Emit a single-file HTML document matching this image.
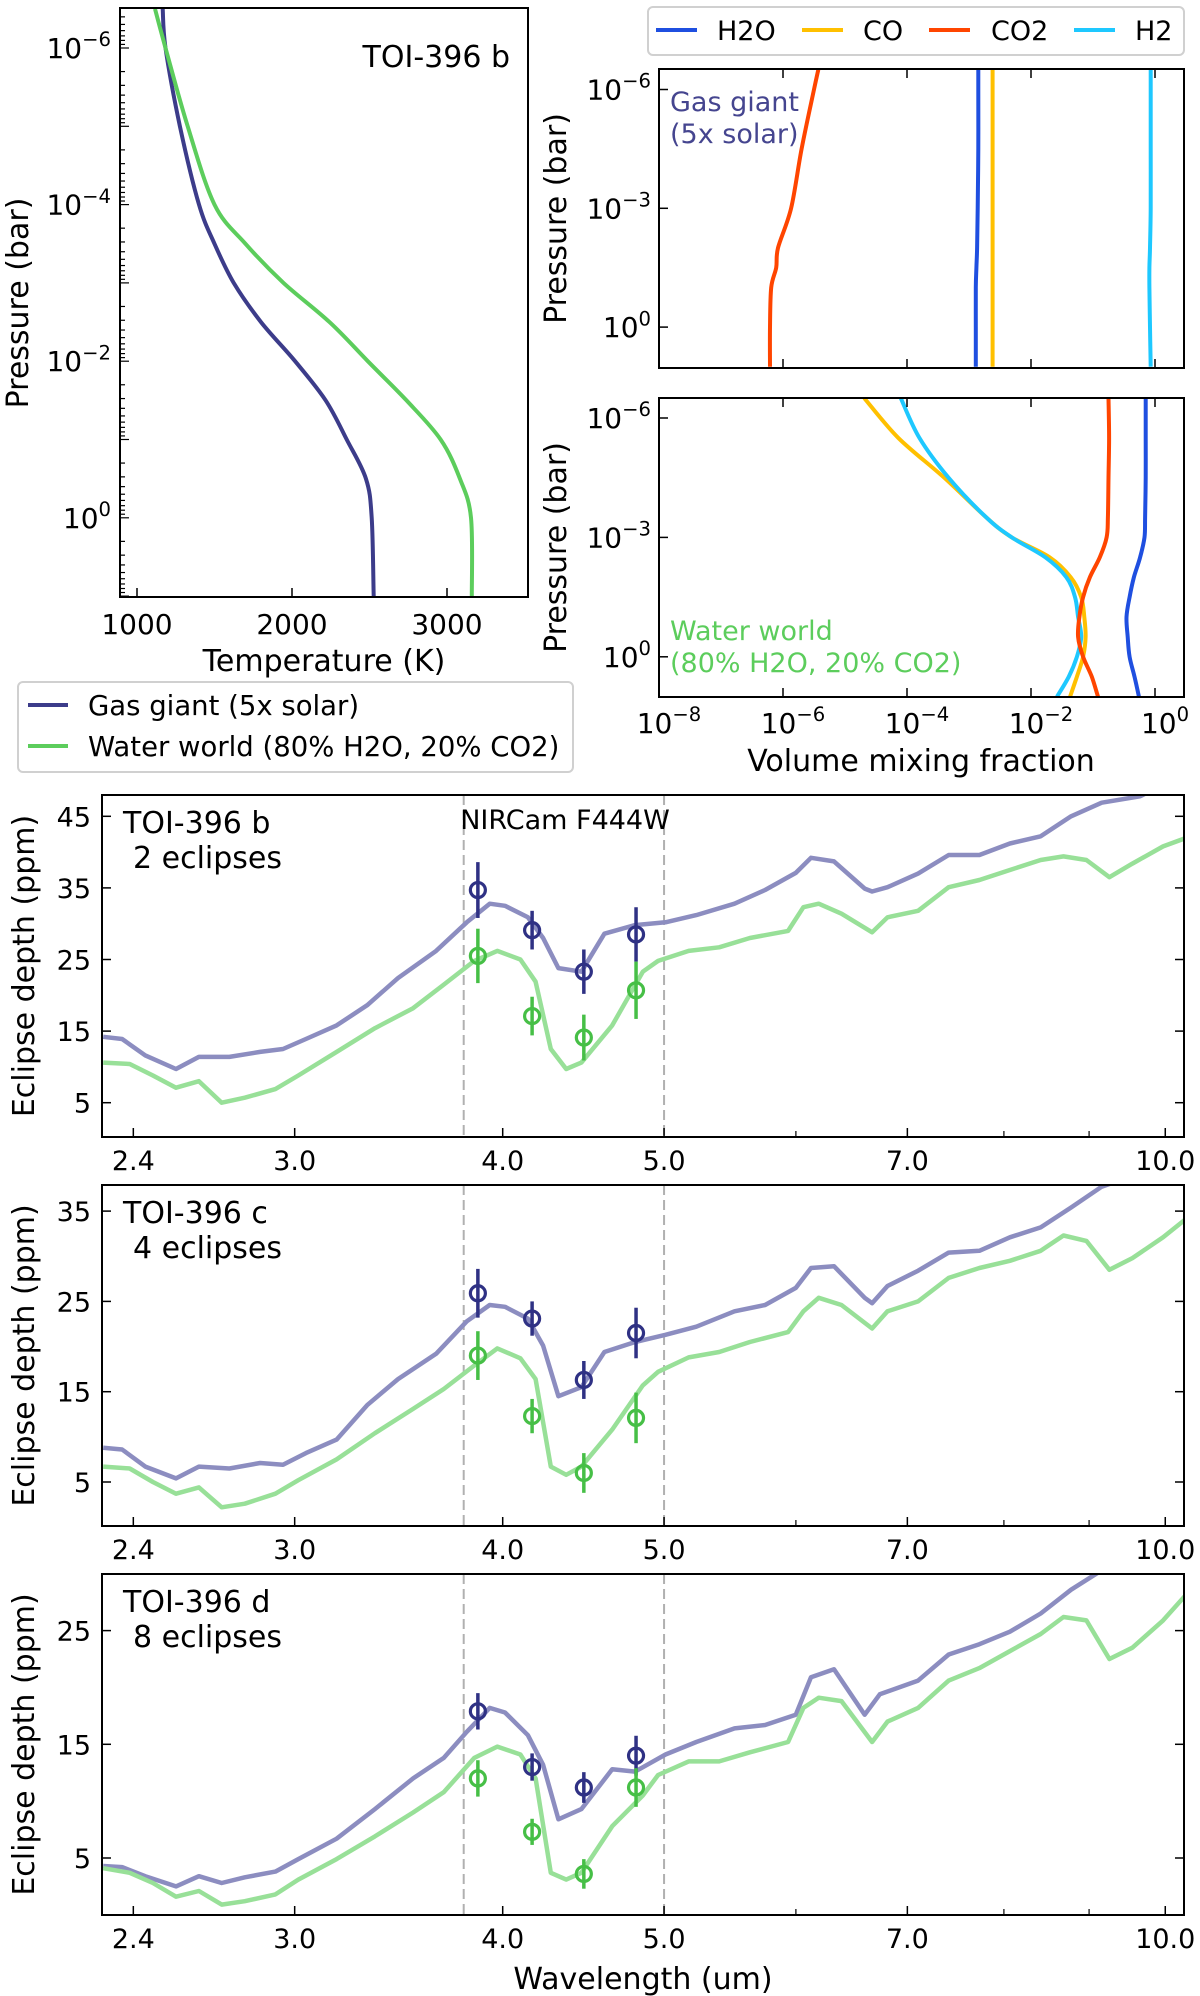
<!DOCTYPE html>
<html><head><meta charset="utf-8">
<style>
html,body{margin:0;padding:0;background:#fff;}
svg{display:block;font-family:"DejaVu Sans","Liberation Sans",sans-serif;}
</style></head>
<body>
<svg id="fig" width="1200" height="1996" viewBox="0 0 1200 1996" xmlns="http://www.w3.org/2000/svg"></svg>
<script>
// ---------- Panel 1: T-P profiles (log10 pressure vs temperature) ----------
const tpLogP = [-6.5, -6, -5, -4, -3.5, -3, -2.5, -2, -1.5, -1, -0.5, 0, 1];
const tpGasT = [1166, 1184, 1277, 1400, 1500, 1624, 1800, 2020, 2217, 2353, 2477, 2514, 2527];
const tpWaterT = [1116, 1184, 1327, 1500, 1700, 1945, 2242, 2489, 2738, 2959, 3083, 3155, 3160];
const tpXTicks = [1000, 2000, 3000];
const tpYTicks = [-6, -4, -2, 0];

// ---------- Panel 2: gas giant mixing (log10 VMR) ----------
const mixLogP = [-6.5, -6, -4.5, -3, -2, -1.5, -1, 0, 1];
const ggH2O = [-2.85, -2.85, -2.85, -2.86, -2.87, -2.88, -2.89, -2.89, -2.89];
const ggCO = [-2.62, -2.62, -2.62, -2.62, -2.62, -2.62, -2.62, -2.62, -2.62];
const ggCO2 = [-5.43, -5.5, -5.7, -5.87, -6.08, -6.11, -6.19, -6.21, -6.21];
const ggH2 = [-0.07, -0.07, -0.07, -0.07, -0.08, -0.09, -0.09, -0.08, -0.07];

// ---------- Panel 3: water world mixing ----------
const wwLogP = [-6.5, -5.5, -4.5, -3.5, -3, -2.5, -2, -1.5, -1, -0.5, 0, 0.5, 1];
const wwCO = [-4.69, -4.14, -3.4, -2.72, -2.31, -1.7, -1.36, -1.19, -1.14, -1.12, -1.16, -1.26, -1.37];
const wwH2 = [-4.1, -3.8, -3.33, -2.72, -2.31, -1.77, -1.43, -1.29, -1.24, -1.19, -1.26, -1.39, -1.58];
const wwCO2 = [-0.75, -0.74, -0.75, -0.76, -0.78, -0.89, -1.05, -1.16, -1.22, -1.24, -1.16, -1.02, -0.92];
const wwH2O = [-0.15, -0.15, -0.15, -0.16, -0.17, -0.24, -0.34, -0.41, -0.46, -0.44, -0.41, -0.33, -0.26];
const mixXTicks = [-8, -6, -4, -2, 0];
const mixYTicks = [-6, -3, 0];

// ---------- Spectra ----------
const wlGasBC = [2.302,2.363,2.440,2.546,2.628,2.741,2.860,2.952,3.047,3.179,3.316,3.461,3.648,3.806,3.929,4.013,4.142,4.230,4.320,4.460,4.604,4.804,5.010,5.228,5.512,5.750,5.999,6.127,6.325,6.599,6.667,6.810,7.105,7.412,7.733,8.067,8.417,8.779,9.159,9.658,10.27];
const gasB = [14.2,13.9,11.6,9.7,11.4,11.4,12.1,12.5,13.9,15.8,18.6,22.4,26.2,30.2,32.8,32.5,30.9,28,23.8,23.3,28.6,29.8,30.2,31.2,32.8,34.7,37.1,39.2,38.7,34.9,34.5,35.1,37,39.6,39.6,41.2,42.2,45,46.9,47.8,51];
const gasC = [8.8,8.6,6.7,5.4,6.7,6.5,7.1,6.9,8.2,9.7,13.5,16.4,19.2,22.8,24.6,24.4,23.1,20.1,14.5,15.5,19.4,20.5,21.3,22.2,23.9,24.6,26.5,28.7,28.9,25.4,24.8,26.7,28.4,30.4,30.6,32.1,33.2,35.4,37.7,39.2,40.7];
const wlGasD = [2.302,2.363,2.440,2.546,2.628,2.712,2.800,2.921,3.015,3.179,3.352,3.534,3.687,3.806,3.929,4.013,4.142,4.230,4.320,4.460,4.654,4.804,5.010,5.228,5.512,5.750,5.999,6.127,6.325,6.599,6.738,7.105,7.412,7.733,8.067,8.417,8.779,9.159,10.27];
const gasD = [4.3,4.2,3.4,2.5,3.4,2.8,3.3,3.8,4.9,6.7,9.3,12,13.8,16.1,18.2,17.8,15.8,13.2,8.4,9.3,12.8,12.6,14.1,15.2,16.4,16.7,17.6,20.9,21.6,17.6,19.4,20.6,22.9,23.8,24.9,26.5,28.6,30.3,32.7];
const wlWater = [2.302,2.388,2.466,2.546,2.628,2.712,2.800,2.921,3.015,3.179,3.352,3.534,3.687,3.846,3.970,4.099,4.186,4.275,4.367,4.460,4.654,4.855,4.959,5.173,5.396,5.630,5.936,6.063,6.192,6.391,6.667,6.810,7.105,7.412,7.733,8.067,8.417,8.687,8.967,9.257,9.556,9.970,10.27];
const waterB = [10.6,10.4,8.8,7.1,8,5,5.7,6.9,8.8,12.1,15.4,18.2,21.5,24.8,26.2,25,21.9,12.5,9.7,10.6,15.8,23.3,24.8,26.2,26.7,28,29,32.3,32.8,31.4,28.8,30.9,31.8,35.1,36.1,37.5,38.9,39.4,38.9,36.5,38.4,40.8,41.9];
const waterC = [6.7,6.5,5,3.7,4.4,2.2,2.6,3.7,5.2,7.5,10.4,13.1,15.3,17.9,19.8,18.7,16.4,6.7,5.8,6.7,10.8,15.7,17.2,18.8,19.4,20.5,21.6,23.9,25.4,24.6,22,23.9,25,27.6,28.7,29.5,30.6,32.3,31.7,28.5,29.8,32.1,34];
const waterD = [4.1,3.7,2.8,1.6,2.1,0.9,1.2,1.8,3.1,4.9,6.9,9,10.8,13.8,14.8,14.1,12,3.7,3.1,3.7,7.8,10.5,12.3,13.5,13.5,14.3,15.2,18.2,19.1,18.8,15.2,17,18.2,20.6,21.7,23.2,24.7,26.2,25.9,22.5,23.5,25.9,28];
const obsWl = [3.865, 4.166, 4.475, 4.81];
const obsGasB = [34.7, 29.1, 23.3, 28.5];
const obsGasBErr = [3.9, 2.7, 3.1, 3.8];
const obsWaterB = [25.5, 17.1, 14.1, 20.7];
const obsWaterBErr = [3.8, 2.7, 3.2, 4.0];
const obsGasC = [25.9, 23.1, 16.3, 21.5];
const obsGasCErr = [2.7, 1.9, 2.1, 2.8];
const obsWaterC = [19, 12.3, 6, 12.1];
const obsWaterCErr = [2.7, 1.9, 2.2, 2.8];
const obsGasD = [17.9, 13, 11.2, 14];
const obsGasDErr = [1.6, 1.2, 1.35, 1.75];
const obsWaterD = [12, 7.3, 3.6, 11.2];
const obsWaterDErr = [1.6, 1.15, 1.3, 1.7];
const wlTicks = [2.4, 3.0, 4.0, 5.0, 7.0, 10.0];
const wlMinorTicks = [6, 8, 9];
const filterEdges = [3.79, 5.0];

const NS = 'http://www.w3.org/2000/svg';
const svg = document.getElementById('fig');
const TICK = 28, TITLE = 30;
function mk(tag, attrs, parent) {
  const e = document.createElementNS(NS, tag);
  for (const k in attrs) e.setAttribute(k, attrs[k]);
  (parent || svg).appendChild(e);
  return e;
}
function txt(s, x, y, size, anchor, parent, color) {
  const t = mk('text', {x: x, y: y, 'font-size': size, 'text-anchor': anchor || 'start', fill: color || '#000'}, parent);
  t.textContent = s;
  return t;
}
function pow10(exp, x, y, size, anchor, parent) {
  const t = mk('text', {x: x, y: y, 'font-size': size, 'text-anchor': anchor || 'end'}, parent);
  const a = mk('tspan', {}, t); a.textContent = '10';
  const b = mk('tspan', {dy: -size * 0.42, 'font-size': size * 0.7}, t);
  b.textContent = exp < 0 ? '\u2212' + Math.abs(exp) : String(exp);
  return t;
}
function pathD(xs, ys) { return xs.map((v, i) => (i ? 'L' : 'M') + v.toFixed(1) + ',' + ys[i].toFixed(1)).join(''); }
function smoothD(xs, ys) {
  let d = 'M' + xs[0].toFixed(1) + ',' + ys[0].toFixed(1);
  for (let i = 0; i < xs.length - 1; i++) {
    const i0 = Math.max(0, i - 1), i3 = Math.min(xs.length - 1, i + 2);
    const c1x = xs[i] + (xs[i + 1] - xs[i0]) / 6, c1y = ys[i] + (ys[i + 1] - ys[i0]) / 6;
    const c2x = xs[i + 1] - (xs[i3] - xs[i]) / 6, c2y = ys[i + 1] - (ys[i3] - ys[i]) / 6;
    d += 'C' + c1x.toFixed(1) + ',' + c1y.toFixed(1) + ' ' + c2x.toFixed(1) + ',' + c2y.toFixed(1) + ' ' + xs[i + 1].toFixed(1) + ',' + ys[i + 1].toFixed(1);
  }
  return d;
}
function clip(id, x0, y0, x1, y1) {
  const cp = mk('clipPath', {id: id});
  mk('rect', {x: x0, y: y0, width: x1 - x0, height: y1 - y0}, cp);
}

// ================= Panel 1 =================
const p1 = {x0: 120, x1: 528, y0: 8, y1: 597};
const xT = T => 137 + (T - 1000) * 0.155;
const yP1 = l => 48 + (l + 6) * 78.3;
const g1 = mk('g', {});


clip('c1', p1.x0, p1.y0, p1.x1, p1.y1);
const gasTP = mk('path', {d: smoothD(tpGasT.map(xT), tpLogP.map(yP1)), fill: 'none', stroke: '#3c3c8a', 'stroke-width': 4, 'clip-path': 'url(#c1)', 'stroke-linejoin': 'round'}, g1);


const waterTP = mk('path', {d: smoothD(tpWaterT.map(xT), tpLogP.map(yP1)), fill: 'none', stroke: '#5ccd5c', 'stroke-width': 4, 'clip-path': 'url(#c1)', 'stroke-linejoin': 'round'}, g1);


const box1 = mk('rect', {x: p1.x0, y: p1.y0, width: p1.x1 - p1.x0, height: p1.y1 - p1.y0, fill: 'none', stroke: '#000', 'stroke-width': 2}, g1);


tpXTicks.forEach(T => {
  mk('line', {x1: xT(T), x2: xT(T), y1: p1.y1, y2: p1.y1 - 9, stroke: '#000', 'stroke-width': 1.5}, g1);
  const t = txt(String(T), xT(T), 634, TICK, 'middle', g1);
  
  
});
for (let d = -7; d <= 1; d++) {
  for (let m = 1; m <= 9; m++) {
    const l = d + Math.log10(m);
    const y = yP1(l);
    if (y < p1.y0 || y > p1.y1) continue;
    mk('line', {x1: p1.x0, x2: p1.x0 + (m === 1 ? 9 : 5), y1: y, y2: y, stroke: '#000', 'stroke-width': 1.2}, g1);
  }
}
tpYTicks.forEach(l => {
  const t = pow10(l, 111, yP1(l) + 10, TICK, 'end', g1);
  
  
});
let t1 = txt('Temperature (K)', 324, 671, TITLE, 'middle', g1);


t1 = txt('Pressure (bar)', 0, 0, TITLE, 'middle', g1);
t1.setAttribute('transform', 'translate(28,303) rotate(-90)');


t1 = txt('TOI-396 b', 510, 67, 30, 'end', g1);



// legend 1
const lg1 = mk('g', {});


mk('rect', {x: 18, y: 682, width: 555, height: 90, rx: 5, fill: '#fff', stroke: '#d0d0d0', 'stroke-width': 2}, lg1);
let le = mk('line', {x1: 28, x2: 68, y1: 705, y2: 705, stroke: '#3c3c8a', 'stroke-width': 4}, lg1);


le = txt('Gas giant (5x solar)', 88, 715, 27.5, 'start', lg1);


le = mk('line', {x1: 28, x2: 68, y1: 746, y2: 746, stroke: '#5ccd5c', 'stroke-width': 4}, lg1);


le = txt('Water world (80% H2O, 20% CO2)', 88, 756, 27.5, 'start', lg1);



// ================= Panels 2/3 =================
const xV = l => 659 + (l + 8) * 62;
const colH2O = '#1f4fe0', colCO = '#ffc000', colCO2 = '#ff4500', colH2 = '#1ec8ff';
function mixPanel(name, y0, y1, yf, logP, series, cid) {
  const g = mk('g', {});
  
  
  clip(cid, 659, y0, 1184, y1);
  series.forEach(s => {
    const p = mk('path', {d: smoothD(s.v.map(xV), logP.map(yf)), fill: 'none', stroke: s.c, 'stroke-width': 4, 'clip-path': 'url(#' + cid + ')', 'stroke-linejoin': 'round'}, g);
    
    
  });
  const fr = mk('rect', {x: 659, y: y0, width: 525, height: y1 - y0, fill: 'none', stroke: '#000', 'stroke-width': 2}, g);
  
  
  mixXTicks.forEach(l => {
    mk('line', {x1: xV(l), x2: xV(l), y1: y1, y2: y1 - 9, stroke: '#000', 'stroke-width': 1.5}, g);
    mk('line', {x1: xV(l), x2: xV(l), y1: y0, y2: y0 + 9, stroke: '#000', 'stroke-width': 1.5}, g);
  });
  mixYTicks.forEach(l => {
    mk('line', {x1: 659, x2: 668, y1: yf(l), y2: yf(l), stroke: '#000', 'stroke-width': 1.5}, g);
    const t = pow10(l, 651, yf(l) + 10, TICK, 'end', g);
    
    
  });
  const t = txt('Pressure (bar)', 0, 0, TITLE, 'middle', g);
  t.setAttribute('transform', 'translate(566,' + ((y0 + y1) / 2) + ') rotate(-90)');
  
  
  return g;
}
const yP2 = l => 89.5 + (l + 6) * 39.6;
const yP3 = l => 418 + (l + 6) * 39.8;
const g2 = mixPanel('gas-giant-mixing-panel', 69, 368, yP2, mixLogP, [
  {v: ggCO2, c: colCO2, n: 'co2-line-gas-giant'}, {v: ggH2O, c: colH2O, n: 'h2o-line-gas-giant'},
  {v: ggCO, c: colCO, n: 'co-line-gas-giant'}, {v: ggH2, c: colH2, n: 'h2-line-gas-giant'}], 'c2');
let a2 = txt('Gas giant', 670, 111, 27, 'start', g2, '#45458f');


a2 = txt('(5x solar)', 670, 143, 27, 'start', g2, '#45458f');


const g3 = mixPanel('water-world-mixing-panel', 398, 697, yP3, wwLogP, [
  {v: wwCO, c: colCO, n: 'co-line-water-world'}, {v: wwH2, c: colH2, n: 'h2-line-water-world'},
  {v: wwCO2, c: colCO2, n: 'co2-line-water-world'}, {v: wwH2O, c: colH2O, n: 'h2o-line-water-world'}], 'c3');
a2 = txt('Water world', 670, 640, 27, 'start', g3, '#5ccd5c');


a2 = txt('(80% H2O, 20% CO2)', 670, 672, 27, 'start', g3, '#5ccd5c');


mixXTicks.forEach(l => {
  const t = pow10(l, xV(l) + 10, 733, TICK, 'middle', g3);
  
  
});
a2 = txt('Volume mixing fraction', 921, 771, TITLE, 'middle', g3);



// legend 2
const lg2 = mk('g', {});


mk('rect', {x: 648, y: 7, width: 536, height: 48, rx: 5, fill: '#fff', stroke: '#d0d0d0', 'stroke-width': 2}, lg2);
[['H2O', colH2O, 656, 717], ['CO', colCO, 802, 863], ['CO2', colCO2, 929, 991], ['H2', colH2, 1074, 1135]].forEach(e => {
  const l = mk('line', {x1: e[2], x2: e[2] + 41, y1: 30, y2: 30, stroke: e[1], 'stroke-width': 4}, lg2);
  
  
  const t = txt(e[0], e[3], 40, 27, 'start', lg2);
  
  
});

// ================= Spectral panels =================
const xW = w => 502.7 + 1665 * Math.log10(w / 4);
function specPanel(cfg) {
  const g = mk('g', {});
  
  
  const yf = v => cfg.y5 - (v - 5) * cfg.pp;
  clip(cfg.cid, 102, cfg.y0, 1184, cfg.y1);
  filterEdges.forEach(w => {
    const l = mk('line', {x1: xW(w), x2: xW(w), y1: cfg.y0, y2: cfg.y1, stroke: '#b0b0b0', 'stroke-width': 2, 'stroke-dasharray': '10,5'}, g);
    
    
  });
  const pg = mk('path', {d: pathD(cfg.wlg.map(xW), cfg.gas.map(yf)), fill: 'none', stroke: '#8c8dc0', 'stroke-width': 4.5, 'clip-path': 'url(#' + cfg.cid + ')', 'stroke-linejoin': 'round'}, g);
  
  
  const pw = mk('path', {d: pathD(wlWater.map(xW), cfg.water.map(yf)), fill: 'none', stroke: '#98e098', 'stroke-width': 4.5, 'clip-path': 'url(#' + cfg.cid + ')', 'stroke-linejoin': 'round'}, g);
  
  
  [[cfg.og, cfg.oge, '#2f3184', 'gas-giant-observation'], [cfg.ow, cfg.owe, '#46bf46', 'water-world-observation']].forEach(s => {
    obsWl.forEach((w, i) => {
      const x = xW(w);
      const eb = mk('line', {x1: x, x2: x, y1: yf(s[0][i] - s[1][i]), y2: yf(s[0][i] + s[1][i]), stroke: s[2], 'stroke-width': 3.5}, g);
      
      
      const c = mk('circle', {cx: x, cy: yf(s[0][i]), r: 7.5, fill: 'none', stroke: s[2], 'stroke-width': 3.2}, g);
      
      
    });
  });
  const fr = mk('rect', {x: 102, y: cfg.y0, width: 1082, height: cfg.y1 - cfg.y0, fill: 'none', stroke: '#000', 'stroke-width': 2}, g);
  
  
  cfg.yt.forEach(v => {
    mk('line', {x1: 102, x2: 111, y1: yf(v), y2: yf(v), stroke: '#000', 'stroke-width': 1.5}, g);
    mk('line', {x1: 1184, x2: 1175, y1: yf(v), y2: yf(v), stroke: '#000', 'stroke-width': 1.5}, g);
    const t = txt(String(v), 91, yf(v) + 10, 27, 'end', g);
    
    
  });
  wlTicks.forEach(w => {
    mk('line', {x1: xW(w), x2: xW(w), y1: cfg.y1, y2: cfg.y1 - 9, stroke: '#000', 'stroke-width': 1.5}, g);
    const t = txt(w.toFixed(1), xW(w), cfg.y1 + 33, 27, 'middle', g);
    
    
  });
  wlMinorTicks.forEach(w => {
    mk('line', {x1: xW(w), x2: xW(w), y1: cfg.y1, y2: cfg.y1 - 6, stroke: '#000', 'stroke-width': 1.2}, g);
  });
  let t = txt(cfg.label, 123, cfg.y0 + 38, 30, 'start', g);
  
  
  t = txt(cfg.ecl, 133, cfg.y0 + 73, 30, 'start', g);
  
  
  t = txt('Eclipse depth (ppm)', 0, 0, TITLE, 'middle', g);
  t.setAttribute('transform', 'translate(34,' + ((cfg.y0 + cfg.y1) / 2) + ') rotate(-90)');
  
  
  return g;
}
const gb = specPanel({name: 'toi-396-b-spectrum-panel', cid: 'cb', y0: 795, y1: 1137, y5: 1102.7, pp: 7.16, wlg: wlGasBC, gas: gasB, water: waterB,
  og: obsGasB, oge: obsGasBErr, ow: obsWaterB, owe: obsWaterBErr, yt: [5, 15, 25, 35, 45], label: 'TOI-396 b', ecl: '2 eclipses'});
let nt = txt('NIRCam F444W', 565, 829, 27, 'middle', gb);


specPanel({name: 'toi-396-c-spectrum-panel', cid: 'cc', y0: 1185, y1: 1526, y5: 1482, pp: 9.03, wlg: wlGasBC, gas: gasC, water: waterC,
  og: obsGasC, oge: obsGasCErr, ow: obsWaterC, owe: obsWaterCErr, yt: [5, 15, 25, 35], label: 'TOI-396 c', ecl: '4 eclipses'});
const gd = specPanel({name: 'toi-396-d-spectrum-panel', cid: 'cd', y0: 1574, y1: 1915, y5: 1858, pp: 11.37, wlg: wlGasD, gas: gasD, water: waterD,
  og: obsGasD, oge: obsGasDErr, ow: obsWaterD, owe: obsWaterDErr, yt: [5, 15, 25], label: 'TOI-396 d', ecl: '8 eclipses'});
nt = txt('Wavelength (um)', 643, 1989, TITLE, 'middle', gd);


</script>
</body></html>
